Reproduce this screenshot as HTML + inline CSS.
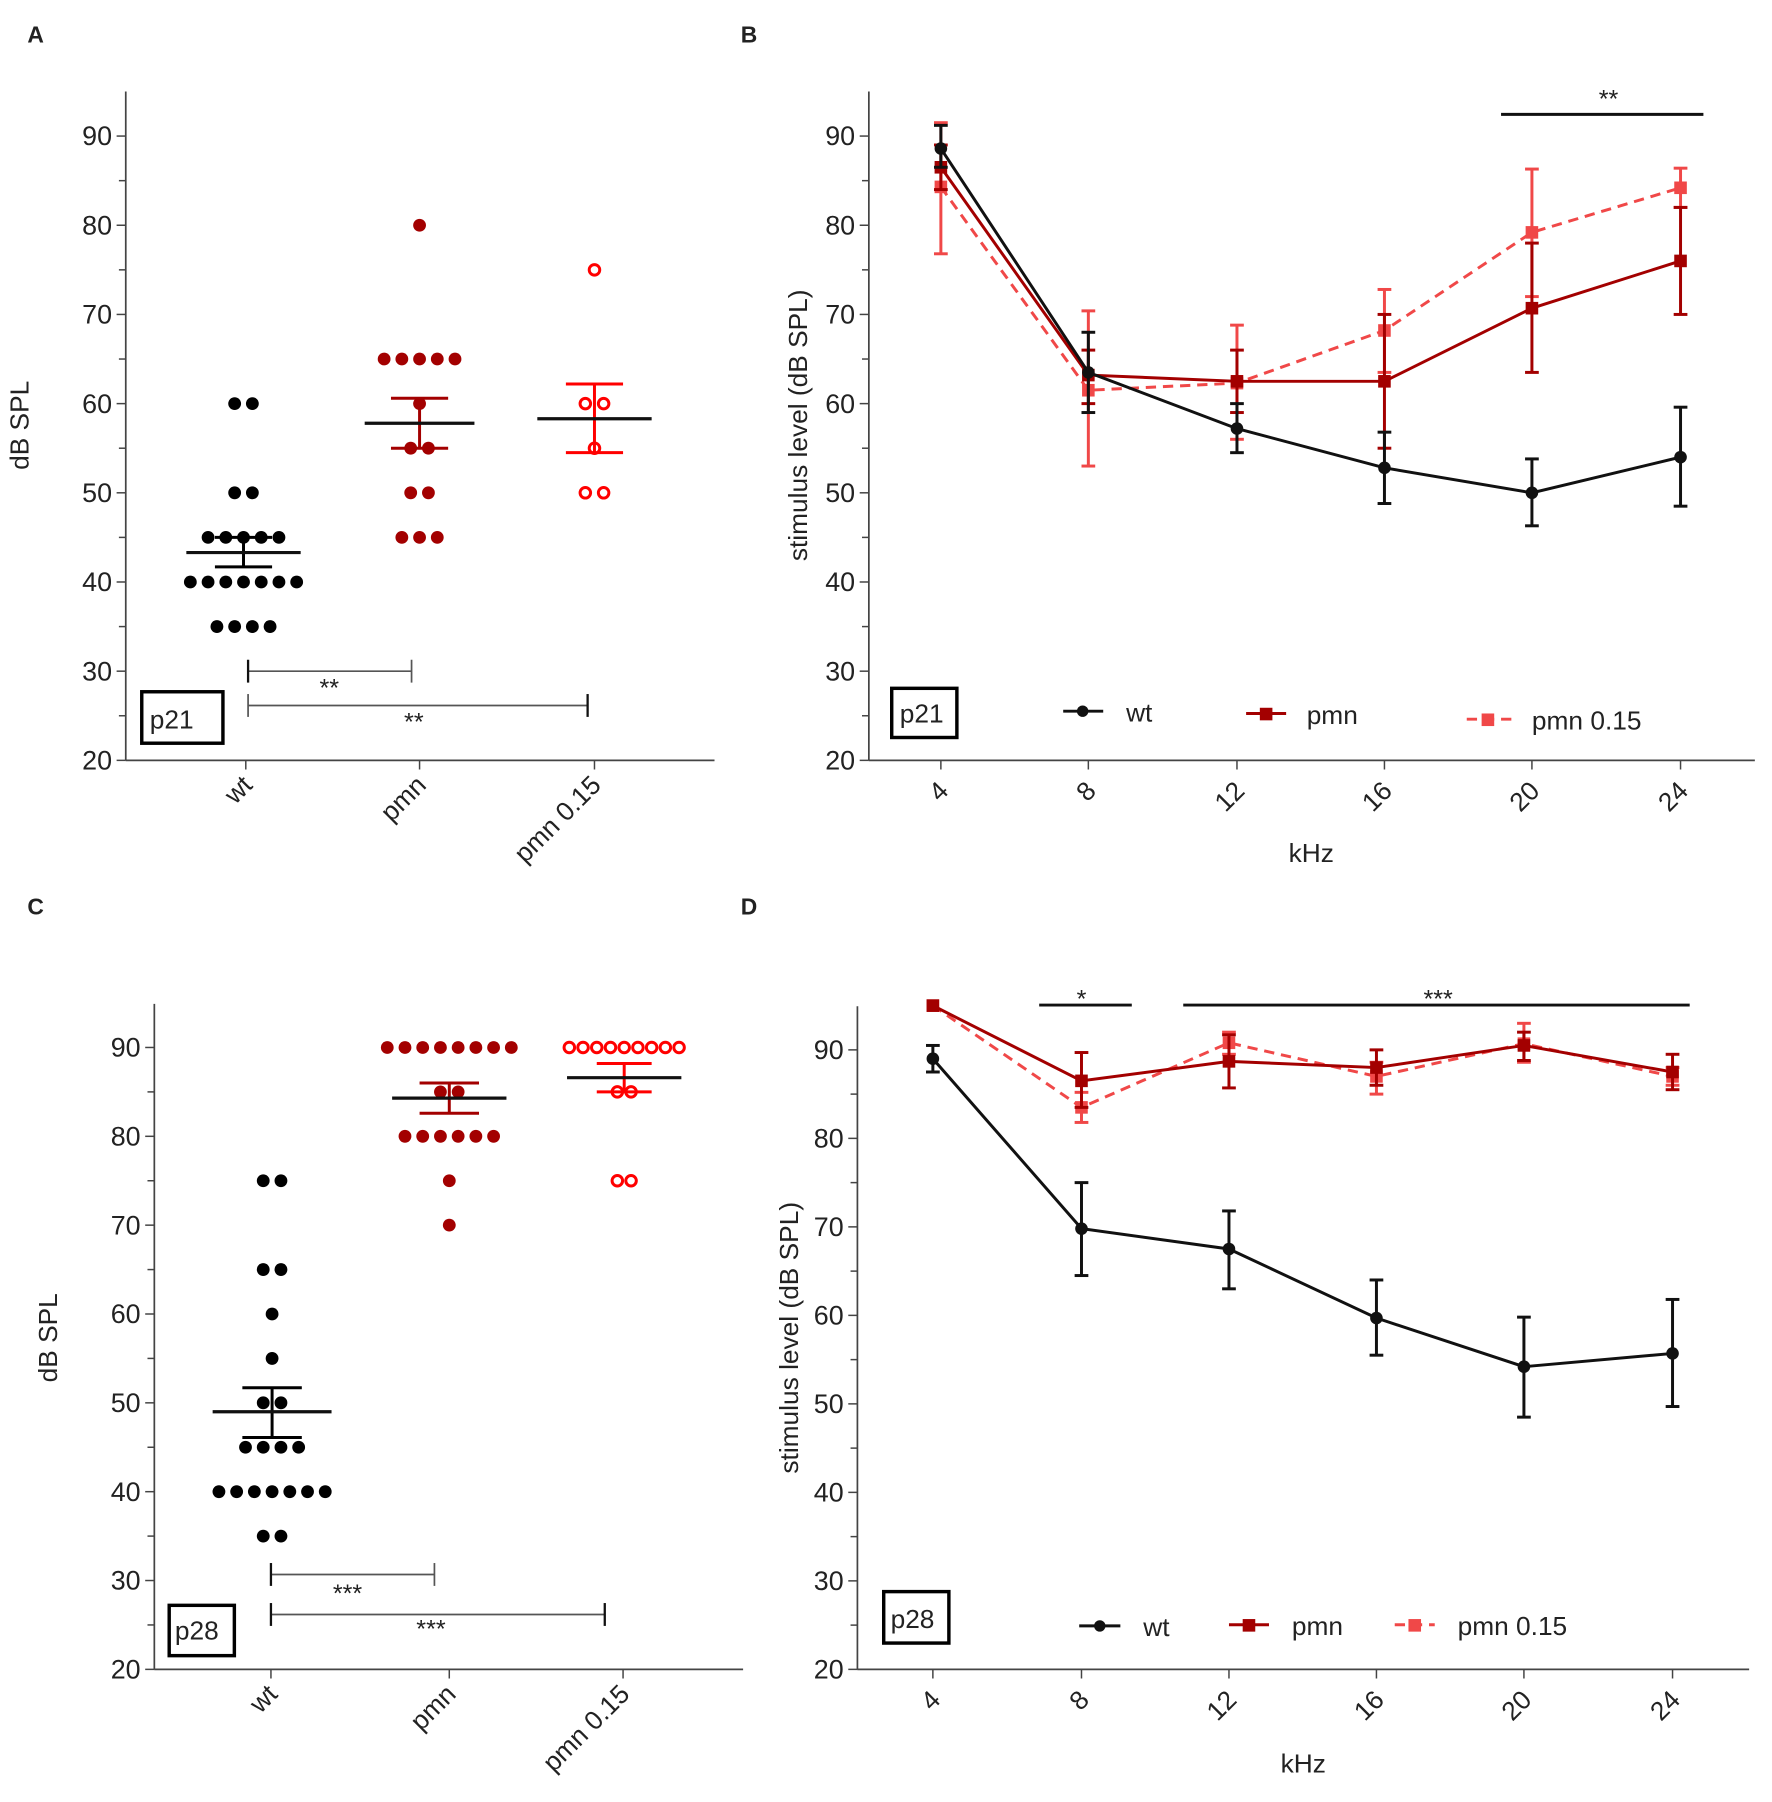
<!DOCTYPE html>
<html><head><meta charset="utf-8"><style>
html,body{margin:0;padding:0;background:#fff}
svg{display:block}
text{font-family:"Liberation Sans",sans-serif;fill:#222}
</style></head><body>
<svg id="s" width="1772" height="1802" viewBox="0 0 1550 1576" preserveAspectRatio="none" xmlns="http://www.w3.org/2000/svg">
<rect width="1550" height="1576" fill="#fff"/>
<g font-weight="bold" font-size="20">
<text x="24" y="37">A</text><text x="648" y="37">B</text>
<text x="24" y="800">C</text><text x="648" y="800">D</text>
</g>
<g font-size="23" fill="#222">
<text transform="translate(25,372) rotate(-90)" text-anchor="middle">dB SPL</text>
<text transform="translate(706,372) rotate(-90)" text-anchor="middle">stimulus level (dB SPL)</text>
<text transform="translate(50,1170) rotate(-90)" text-anchor="middle">dB SPL</text>
<text transform="translate(698,1170) rotate(-90)" text-anchor="middle">stimulus level (dB SPL)</text>
<text x="1147" y="754" text-anchor="middle">kHz</text>
<text x="1140" y="1550" text-anchor="middle">kHz</text>
<text transform="translate(222,688) rotate(-45)" text-anchor="end">wt</text>
<text transform="translate(374,688) rotate(-45)" text-anchor="end">pmn</text>
<text transform="translate(527,688) rotate(-45)" text-anchor="end">pmn 0.15</text>
<text transform="translate(244,1483) rotate(-45)" text-anchor="end">wt</text>
<text transform="translate(400,1483) rotate(-45)" text-anchor="end">pmn</text>
<text transform="translate(552,1483) rotate(-45)" text-anchor="end">pmn 0.15</text>
<text x="131" y="637">p21</text>
<text x="787" y="632">p21</text>
<text x="153" y="1434">p28</text>
<text x="779" y="1424">p28</text>
<text x="985" y="631">wt</text>
<text x="1143" y="633">pmn</text>
<text x="1340" y="638">pmn 0.15</text>
<text x="1000" y="1431">wt</text>
<text x="1130" y="1430">pmn</text>
<text x="1275" y="1430">pmn 0.15</text>
</g>
<g font-size="22" text-anchor="middle">
<text x="288" y="609">**</text><text x="362" y="639">**</text>
<text x="1407" y="94">**</text>
<text x="304" y="1401">***</text><text x="377" y="1432">***</text>
<text x="946" y="881">*</text><text x="1258" y="881">***</text>
</g>
<g id="dyn"></g>
</svg>
<script>
const NS="http://www.w3.org/2000/svg",g=document.getElementById('dyn');
function el(t,a,txt){const e=document.createElementNS(NS,t);for(const k in a)e.setAttribute(k,a[k]);if(txt!=null)e.textContent=txt;g.appendChild(e);return e;}
function line(x1,y1,x2,y2,c,w,d){const a={x1,y1,x2,y2,stroke:c,'stroke-width':w};if(d)a['stroke-dasharray']=d;el('line',a);}
function axes(ax,top,bot,right,y90,yfun,xt,xlab){
 line(ax,top,ax,bot,'#444',1.5);line(ax,bot,right,bot,'#444',1.5);
 for(let v=20;v<=90;v+=5){const y=yfun(v);line(ax-(v%10?6:8),y,ax,y,'#444',1.3);
  if(v%10==0)el('text',{x:ax-12,y:y+8,'text-anchor':'end','font-size':23.5},v);}
 xt.forEach((x,i)=>{line(x,bot,x,bot+8,'#444',1.3);
  if(xlab)el('text',{transform:`translate(${x+8},${bot+28}) rotate(-45)`,'text-anchor':'end','font-size':23},xlab[i]);});
}
const C1='#a30000',C2='#ff0000',C3='#f04848';
const yA=v=>665-(v-20)*7.8;
axes(110,80,665,625,0,yA,[215,367,520]);
function row(cx,v,n,c,open,yf,sp){sp=sp||15.5;for(let i=0;i<n;i++){const x=cx+(i-(n-1)/2)*sp;
 el('circle',{cx:x,cy:yf(v),r:open?4.6:5.6,fill:open?'#fff':c,stroke:c,'stroke-width':open?2.6:0});}}
function meanSem(cx,m,lo,hi,c,yf,hw,cw){
 line(cx,yf(lo),cx,yf(hi),c,2.6);line(cx-cw,yf(lo),cx+cw,yf(lo),c,2.6);line(cx-cw,yf(hi),cx+cw,yf(hi),c,2.6);
 line(cx-hw,yf(m),cx+hw,yf(m),'#111',2.8);}
[[60,2],[50,2],[45,5],[40,7],[35,4]].forEach(r=>row(213,r[0],r[1],'#000',0,yA));
meanSem(213,43.3,41.7,45,'#000',yA,50,25);
[[80,1],[65,5],[60,1],[55,2],[50,2],[45,3]].forEach(r=>row(367,r[0],r[1],C1,0,yA));
meanSem(367,57.8,55,60.6,C1,yA,48,25);
[[75,1],[60,2],[55,1],[50,2]].forEach(r=>row(520,r[0],r[1],C2,1,yA,16));
meanSem(520,58.3,54.5,62.2,C2,yA,50,25);
line(217,587,360,587,'#555',1.5);line(217,577,217,597,'#111',2);line(360,577,360,597,'#555',1.5);
line(217,617,514,617,'#555',1.5);line(217,607,217,627,'#555',1.5);line(514,607,514,627,'#111',2);
el('rect',{x:124,y:605,width:71,height:45,fill:'none',stroke:'#000','stroke-width':3});
const yC=v=>1460-(v-20)*7.77;
axes(135,878,1460,650,0,yC,[237,393,545]);
[[75,2],[65,2],[60,1],[55,1],[50,2],[45,4],[40,7],[35,2]].forEach(r=>row(238,r[0],r[1],'#000',0,yC));
meanSem(238,49,46.1,51.7,'#000',yC,52,26);
[[90,8],[85,2],[80,6],[75,1],[70,1]].forEach(r=>row(393,r[0],r[1],C1,0,yC));
meanSem(393,84.3,82.6,86,C1,yC,50,26);
[[90,9],[85,2],[75,2]].forEach(r=>row(546,r[0],r[1],C2,1,yC,12));
meanSem(546,86.6,85,88.2,C2,yC,50,24);
line(237,1377,380,1377,'#555',1.5);line(237,1367,237,1387,'#111',2);line(380,1367,380,1387,'#555',1.5);
line(237,1412,529,1412,'#555',1.5);line(237,1402,237,1422,'#111',2);line(529,1402,529,1422,'#111',2);
el('rect',{x:148,y:1404,width:57,height:44,fill:'none',stroke:'#000','stroke-width':3});
function series(xs,yf,d,c,mk,dash){
 const pts=d.map((p,i)=>[xs[i],yf(p[0])]);
 el('polyline',{points:pts.map(p=>p.join(',')).join(' '),fill:'none',stroke:c,'stroke-width':2.6,'stroke-dasharray':dash||'none'});
 d.forEach((p,i)=>{if(p[1]==null)return;const x=xs[i];line(x,yf(p[1]),x,yf(p[2]),c,2.6);line(x-6,yf(p[1]),x+6,yf(p[1]),c,2.6);line(x-6,yf(p[2]),x+6,yf(p[2]),c,2.6);});
 pts.forEach(p=>{if(mk=='c')el('circle',{cx:p[0],cy:p[1],r:5.5,fill:c});else el('rect',{x:p[0]-5.5,y:p[1]-5.5,width:11,height:11,fill:c});});
}
const kl=['4','8','12','16','20','24'];
const xB=[823,952,1082,1211,1340,1470];
axes(760,80,665,1535,0,yA,xB,kl);
series(xB,yA,[[84.3,76.8,91.5],[61.5,53,70.4],[62.3,56,68.8],[68.2,63.5,72.8],[79.2,72,86.3],[84.2,82,86.4]],C3,'s','9,6');
series(xB,yA,[[86.5,84,89],[63.2,60,66],[62.5,59,66],[62.5,55,70],[70.7,63.5,78],[76,70,82]],C1,'s');
series(xB,yA,[[88.6,86.5,91.2],[63.5,59,68],[57.2,54.5,60],[52.8,48.8,56.8],[50,46.3,53.8],[54,48.5,59.6]],'#111','c');
line(1313,100,1490,100,'#111',2.6);
el('rect',{x:780,y:602,width:57,height:43,fill:'none',stroke:'#000','stroke-width':3});
line(930,622,965,622,'#111',2.6);el('circle',{cx:947,cy:622,r:5,fill:'#111'});
line(1090,624,1125,624,C1,2.6);el('rect',{x:1102,y:619,width:11,height:11,fill:C1});
line(1283,629,1322,629,C3,2.6,'9,6');el('rect',{x:1296,y:624,width:11,height:11,fill:C3});
const yD=v=>1460-(v-20)*7.74;
const xD=[816,946,1075,1204,1333,1463];
axes(750,880,1460,1530,0,yD,xD,kl);
series(xD,yD,[[95],[83.5,81.8,85.2],[90.8,89.5,92],[87,85,88.6],[90.7,88.6,93],[87,86,88]],C3,'s','9,6');
series(xD,yD,[[95],[86.5,83.5,89.7],[88.7,85.7,91.7],[88,86,90],[90.5,88.8,92],[87.5,85.5,89.5]],C1,'s');
series(xD,yD,[[89,87.5,90.5],[69.8,64.5,75],[67.5,63,71.8],[59.7,55.5,64],[54.2,48.5,59.8],[55.7,49.7,61.8]],'#111','c');
line(909,879,990,879,'#111',2.6);line(1035,879,1478,879,'#111',2.6);
el('rect',{x:773,y:1392,width:57,height:45,fill:'none',stroke:'#000','stroke-width':3});
line(944,1422,980,1422,'#111',2.6);el('circle',{cx:962,cy:1422,r:5,fill:'#111'});
line(1075,1421,1110,1421,C1,2.6);el('rect',{x:1087,y:1416,width:11,height:11,fill:C1});
line(1220,1421,1255,1421,C3,2.6,'9,6');el('rect',{x:1232,y:1416,width:11,height:11,fill:C3});
</script>
</body></html>
